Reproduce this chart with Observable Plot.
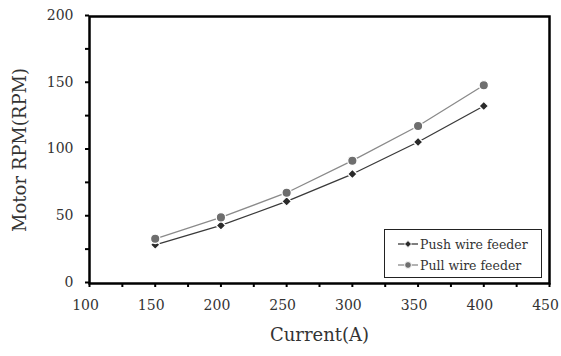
<!DOCTYPE html>
<html>
<head>
<meta charset="utf-8">
<script src="https://cdn.jsdelivr.net/npm/d3@7"></script>
<script src="https://cdn.jsdelivr.net/npm/@observablehq/plot@0.6"></script>
<style>
  body { margin: 0; background: #fff; }
  #wrap { position: relative; width: 561px; height: 356px; font-family: "DejaVu Serif", serif; }
  #legend { position: absolute; left: 384px; top: 229px; width: 156px; height: 47px; border: 1px solid #222; background: #fff;
            font-size: 12.5px; color: #333; box-sizing: content-box; }
  #legend .row { position: absolute; left: 12px; display: flex; align-items: center; white-space: nowrap; }
  #legend svg { display: block; margin-right: 1px; }
</style>
</head>
<body>
<div id="wrap"><div id="legend"></div></div>
<script>
const current = [150, 200, 250, 300, 350, 400];
const pushRPM = [29, 43.5, 61.5, 82, 106, 133];
const pullRPM = [33.5, 49.5, 68, 92, 118, 148.5];
const seriesNames = ["Push wire feeder", "Pull wire feeder"];
const xTicks = d3.range(100, 451, 25);
const yTicks = d3.range(0, 201, 25);
const xLabel = "Current(A)";
const yLabel = "Motor RPM(RPM)";

const pushData = current.map((c, i) => ({x: c, y: pushRPM[i]}));
const pullData = current.map((c, i) => ({x: c, y: pullRPM[i]}));

const pushColor = "#2a2a2a", pushLine = "#3a3a3a";
const pullColor = "#6e6e6e", pullLine = "#8a8a8a";

const chart = Plot.plot({
  width: 561,
  height: 356,
  marginLeft: 89,
  marginRight: 12,
  marginTop: 16,
  marginBottom: 73,
  x: {domain: [100, 450]},
  y: {domain: [0, 200]},
  style: {fontFamily: "DejaVu Serif, serif", fontSize: "14px", color: "#333", background: "white"},
  marks: [
    Plot.axisX({ticks: xTicks, tickFormat: () => "", tickSize: 4, label: null, stroke: "black", strokeWidth: 2}),
    Plot.axisX({ticks: xTicks.filter(d => d % 50 === 0), tickSize: 0, tickPadding: 17, label: null, dx: -4, fontSize: 14, fill: "#333"}),
    Plot.axisY({ticks: yTicks, tickFormat: d => d % 50 === 0 ? d : "", tickSize: 4, tickPadding: 12, label: null, stroke: "black", strokeWidth: 2, fontSize: 14, dy: -1}),
    Plot.frame({stroke: "black", strokeWidth: 2.5}),
    Plot.line(pushData, {x: "x", y: "y", stroke: pushLine, strokeWidth: 1.3}),
    Plot.line(pullData, {x: "x", y: "y", stroke: pullLine, strokeWidth: 1.3}),
    Plot.dot(pushData, {x: "x", y: "y", symbol: "diamond2", r: 4.3, fill: pushColor, stroke: "white", strokeWidth: 1.3}),
    Plot.dot(pullData, {x: "x", y: "y", symbol: "circle", r: 4.7, fill: pullColor, stroke: "white", strokeWidth: 1.3}),
    Plot.text([xLabel], {frameAnchor: "bottom", dy: 57, fontSize: 18, fill: "#333"}),
    Plot.text([yLabel], {frameAnchor: "left", textAnchor: "middle", dx: -69, rotate: -90, fontSize: 18, fill: "#333"})
  ]
});
document.getElementById("wrap").prepend(chart);

const legend = document.getElementById("legend");
const specs = [
  {name: seriesNames[0], line: pushLine, fill: pushColor, shape: "diamond", top: 6},
  {name: seriesNames[1], line: pullLine, fill: pullColor, shape: "circle", top: 27}
];
for (const s of specs) {
  const row = document.createElement("div");
  row.className = "row";
  row.style.top = s.top + "px";
  const marker = s.shape === "circle"
    ? `<circle cx="11" cy="8" r="3.4" fill="${s.fill}" stroke="white" stroke-width="1"/>`
    : `<path d="M11,4.5 L14.5,8 L11,11.5 L7.5,8 Z" fill="${s.fill}" stroke="white" stroke-width="1"/>`;
  row.innerHTML = `<svg width="22" height="16"><line x1="1" y1="8" x2="21" y2="8" stroke="${s.line}" stroke-width="1.3"/>${marker}</svg><span>${s.name}</span>`;
  legend.appendChild(row);
}
</script>
</body>
</html>
